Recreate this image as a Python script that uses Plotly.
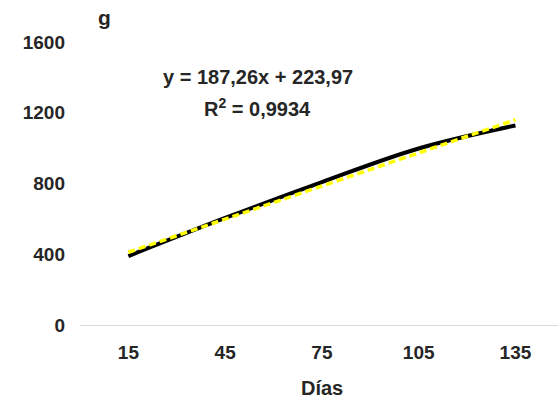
import plotly.graph_objects as go

dias = ["15", "45", "75", "105", "135"]
peso_g = [390, 605, 808, 998, 1128]
trend_slope = 187.26
trend_intercept = 223.97
y_ticks = [0, 400, 800, 1200, 1600]

trend_vals = [trend_slope * (i + 1) + trend_intercept for i in range(len(dias))]

FONT = "Liberation Sans, Arial, sans-serif"

fig = go.Figure()
fig.add_trace(go.Scatter(
    x=dias, y=peso_g, mode="lines",
    line=dict(color="#000000", width=4, shape="spline"),
    showlegend=False,
))
fig.add_trace(go.Scatter(
    x=dias, y=trend_vals, mode="lines",
    line=dict(color="#ffff00", width=3.5, dash="7px,4px"),
    showlegend=False,
))

fig.update_layout(
    width=558, height=404,
    margin=dict(l=80, r=0, t=42, b=79),
    paper_bgcolor="white", plot_bgcolor="white",
    font=dict(family=FONT, color="#000000"),
    xaxis=dict(
        type="category", range=[-0.5, 4.44],
        showgrid=False, zeroline=False,
        showline=True, linecolor="#d9d9d9", linewidth=1,
        ticks="", ticklabelstandoff=10,
        tickfont=dict(family=FONT, size=19, color="#262626", weight="bold"),
    ),
    yaxis=dict(
        range=[0, 1600], tickvals=y_ticks,
        showgrid=False, zeroline=False, showline=False,
        ticks="", ticklabelstandoff=14,
        tickfont=dict(family=FONT, size=19, color="#262626", weight="bold"),
    ),
    annotations=[
        dict(text="<b>g</b>", x=0.052, y=1.085, xref="paper", yref="paper",
             showarrow=False, xanchor="center", yanchor="middle",
             font=dict(family=FONT, size=21, color="#262626")),
        dict(text="<b>y = 187,26x + 223,97</b>", x=0.372, y=0.876, xref="paper", yref="paper",
             showarrow=False, xanchor="center", yanchor="middle",
             font=dict(family=FONT, size=20, color="#262626")),
        dict(text="<b>R<sup>2</sup> = 0,9934</b>", x=0.372, y=0.767, xref="paper", yref="paper",
             showarrow=False, xanchor="center", yanchor="middle",
             font=dict(family=FONT, size=20, color="#262626")),
        dict(text="<b>Días</b>", x=0.506, y=-0.223, xref="paper", yref="paper",
             showarrow=False, xanchor="center", yanchor="middle",
             font=dict(family=FONT, size=20, color="#262626")),
    ],
)

fig.write_html("out.html", config={"displayModeBar": False},
               post_script="document.body.style.margin='0';")
